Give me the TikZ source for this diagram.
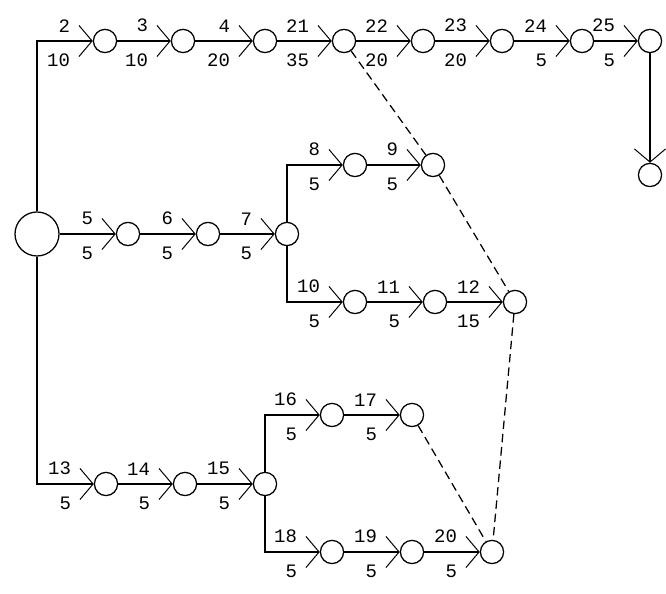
\documentclass[tikz,border=0pt]{standalone}
\usepackage{fontspec}
\setmainfont{Liberation Mono}
\usetikzlibrary{arrows.meta}

\begin{document}
\begin{tikzpicture}[
    event/.style={circle, draw, line width=0.9pt, minimum size=0.58cm,
                  inner sep=0pt, fill=white},
    origin/.style={event, minimum size=1.1cm},
    flow/.style={-{Straight Barb[length=0.33cm, width=0.78cm, line width=0.7pt]},
                 line width=1.2pt},
    dummy/.style={line width=0.9pt, dash pattern=on 6pt off 3.5pt},
    lbl/.style={font=\fontsize{13.5}{15}\selectfont, inner sep=0pt},
    nm/.style={lbl, pos=1, anchor=south east, xshift=-0.55cm, yshift=0.2cm},
    dur/.style={lbl, pos=1, anchor=north east, xshift=-0.55cm, yshift=-0.3cm},
]

    \useasboundingbox (0,0) rectangle (16.65,14.85);

    % events
    \node[origin] (st) at (0.925,9.0) {};
    \node[event] (e2) at (2.625,13.825) {};
    \node[event] (e3) at (4.575,13.825) {};
    \node[event] (e4) at (6.625,13.825) {};
    \node[event] (e21) at (8.6,13.825) {};
    \node[event] (e22) at (10.575,13.825) {};
    \node[event] (e23) at (12.55,13.825) {};
    \node[event] (e24) at (14.55,13.825) {};
    \node[event] (e25) at (16.25,13.825) {};
    \node[event] (fin) at (16.25,10.475) {};

    \node[event] (e5) at (3.2,9.0) {};
    \node[event] (e6) at (5.2,9.0) {};
    \node[event] (e7) at (7.175,9.0) {};
    \node[event] (e8) at (8.875,10.725) {};
    \node[event] (e9) at (10.825,10.725) {};
    \node[event] (e10) at (8.875,7.3) {};
    \node[event] (e11) at (10.875,7.3) {};
    \node[event] (e12) at (12.875,7.3) {};

    \node[event] (e13) at (2.65,2.75) {};
    \node[event] (e14) at (4.625,2.75) {};
    \node[event] (e15) at (6.625,2.75) {};
    \node[event] (e16) at (8.3,4.475) {};
    \node[event] (e17) at (10.3,4.475) {};
    \node[event] (e18) at (8.3,1.05) {};
    \node[event] (e19) at (10.3,1.05) {};
    \node[event] (e20) at (12.3,1.05) {};

    % top chain
    \draw[flow] (st) |- node[nm] (n2) {2} node[dur] (d2) {10} (e2);
    \draw[flow] (e2) -- node[nm] (n3) {3} node[dur] (d3) {10} (e3);
    \draw[flow] (e3) -- node[nm] (n4) {4} node[dur] (d4) {20} (e4);
    \draw[flow] (e4) -- node[nm] (n21) {21} node[dur] (d21) {35} (e21);
    \draw[flow] (e21) -- node[nm] (n22) {22} node[dur] (d22) {20} (e22);
    \draw[flow] (e22) -- node[nm] (n23) {23} node[dur] (d23) {20} (e23);
    \draw[flow] (e23) -- node[nm] (n24) {24} node[dur] (d24) {5} (e24);
    \draw[flow] (e24) -- node[nm] (n25) {25} node[dur] (d25) {5} (e25);
    \draw[flow] (e25) -- (fin);

    % middle chain
    \draw[flow] (st) -- node[nm] (n5) {5} node[dur] (d5) {5} (e5);
    \draw[flow] (e5) -- node[nm] (n6) {6} node[dur] (d6) {5} (e6);
    \draw[flow] (e6) -- node[nm] (n7) {7} node[dur] (d7) {5} (e7);
    \draw[flow] (e7) |- node[nm] (n8) {8} node[dur] (d8) {5} (e8);
    \draw[flow] (e8) -- node[nm] (n9) {9} node[dur] (d9) {5} (e9);
    \draw[flow] (e7) |- node[nm] (n10) {10} node[dur] (d10) {5} (e10);
    \draw[flow] (e10) -- node[nm] (n11) {11} node[dur] (d11) {5} (e11);
    \draw[flow] (e11) -- node[nm] (n12) {12} node[dur] (d12) {15} (e12);

    % bottom chain
    \draw[flow] (st) |- node[nm] (n13) {13} node[dur] (d13) {5} (e13);
    \draw[flow] (e13) -- node[nm] (n14) {14} node[dur] (d14) {5} (e14);
    \draw[flow] (e14) -- node[nm] (n15) {15} node[dur] (d15) {5} (e15);
    \draw[flow] (e15) |- node[nm] (n16) {16} node[dur] (d16) {5} (e16);
    \draw[flow] (e16) -- node[nm] (n17) {17} node[dur] (d17) {5} (e17);
    \draw[flow] (e15) |- node[nm] (n18) {18} node[dur] (d18) {5} (e18);
    \draw[flow] (e18) -- node[nm] (n19) {19} node[dur] (d19) {5} (e19);
    \draw[flow] (e19) -- node[nm] (n20) {20} node[dur] (d20) {5} (e20);

    % dummy links
    \draw[dummy] (e21) -- (e9) -- (e12) -- (e20);
    \draw[dummy] (e17) -- (e20);

\end{tikzpicture}
\end{document}
